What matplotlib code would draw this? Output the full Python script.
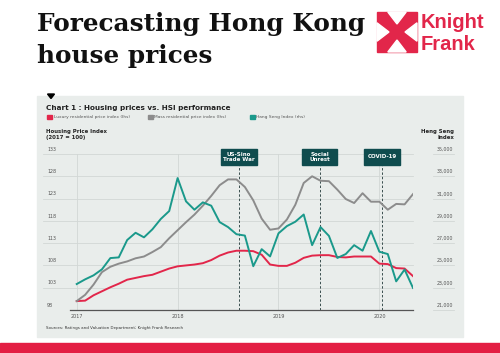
import matplotlib
matplotlib.use("Agg")
import matplotlib.pyplot as plt
from matplotlib.patches import Rectangle, Polygon
from matplotlib.transforms import blended_transform_factory

# monthly data, Jan 2017 - May 2020
luxury = [100.0, 100.1, 101.3, 102.2, 103.1, 103.9, 104.8, 105.2, 105.6, 105.9, 106.6, 107.3,
          107.8, 108.0, 108.2, 108.5, 109.2, 110.2, 110.9, 111.3, 111.3, 111.2, 110.4, 108.2,
          107.9, 107.9, 108.6, 109.7, 110.2, 110.3, 110.3, 109.9, 109.8, 110.0, 110.0, 110.0,
          108.4, 108.3, 107.4, 107.3, 105.6]
mass = [100.0, 101.4, 103.7, 106.5, 107.7, 108.4, 108.9, 109.6, 110.0, 111.0, 112.1, 114.1,
        115.9, 117.7, 119.4, 121.4, 123.6, 126.0, 127.3, 127.3, 125.6, 122.6, 118.5, 116.0,
        116.3, 118.3, 121.6, 126.5, 128.0, 127.0, 126.9, 125.0, 122.9, 122.0, 124.2, 122.3,
        122.3, 120.5, 121.8, 121.7, 124.0]
hsi = [23330, 23750, 24110, 24650, 25660, 25720, 27280, 27930, 27520, 28240, 29170, 29880,
       32840, 30750, 30000, 30660, 30360, 28890, 28440, 27800, 27680, 24930, 26460, 25810,
       27880, 28530, 28920, 29570, 26820, 28440, 27650, 25670, 26020, 26820, 26320, 28090,
       26230, 26020, 23570, 24630, 22980]
months = list(range(len(hsi)))

years = ["2017", "2018", "2019", "2020"]
left_ticks = [98, 103, 108, 113, 118, 123, 128, 133]
right_ticks = [21000, 23000, 25000, 27000, 29000, 31000, 33000, 35000]
events = ["US-Sino\nTrade War", "Social\nUnrest", "COVID-19"]
event_month = [19.3, 28.9, 36.3]

RED = "#e2264a"
GREY = "#8c8c8c"
TEAL = "#1a998b"
BOX = "#0f4c4e"
PANEL = "#e9edeb"
GRID = "#d2d7d5"
TXT = "#555555"

W, H = 500, 353
fig = plt.figure(figsize=(5, 3.53), dpi=100)

def fx(px):
    return px / W

def fy(py):
    return 1 - py / H

# grey panel + bottom red band (behind the axes)
fig.patches.append(Rectangle((fx(37), fy(337)), fx(463) - fx(37), (337 - 96) / H,
                             transform=fig.transFigure, color=PANEL, zorder=-2))
fig.patches.append(Rectangle((0, 0), 1, 10 / H, transform=fig.transFigure,
                             color="#e31e43", zorder=-2))
fig.patches.append(Polygon([(fx(47.5), fy(94)), (fx(54.5), fy(94)), (fx(51), fy(98.5))],
                           transform=fig.transFigure, color="black", zorder=1))

# headline
fig.text(fx(37), fy(31), "Forecasting Hong Kong", family="DejaVu Serif", weight="bold",
         fontsize=17.8, va="baseline", color="#111111")
fig.text(fx(37), fy(63), "house prices", family="DejaVu Serif", weight="bold",
         fontsize=17.8, va="baseline", color="#111111")

# logo
lx, ly, ls = 377, 12, 40
def lp(u, v):
    return (fx(lx + u * ls), fy(ly + (1 - v) * ls))
fig.patches.append(Polygon([lp(0, 0), lp(1, 0), lp(1, 1), lp(0, 1)], transform=fig.transFigure,
                           color=RED, zorder=1))
for tri in ([(0.27, 1), (0.73, 1), (0.5, 0.7)], [(0.27, 0), (0.73, 0), (0.5, 0.3)],
            [(0, 0.27), (0, 0.73), (0.3, 0.5)], [(1, 0.27), (1, 0.73), (0.7, 0.5)]):
    fig.patches.append(Polygon([lp(u, v) for u, v in tri], transform=fig.transFigure,
                               color="white", zorder=2))
fig.text(fx(421), fy(27.5), "Knight", family="Liberation Sans", weight="bold", fontsize=14.5,
         color=RED, va="baseline")
fig.text(fx(421), fy(50), "Frank", family="Liberation Sans", weight="bold", fontsize=14.5,
         color=RED, va="baseline")

# chart header
fig.text(fx(46), fy(108), "Chart 1 : Housing prices vs. HSI performance", weight="bold",
         fontsize=5.2, va="center", color="#222222")
legend = [("Luxury residential price index (lhs)", RED, 47),
          ("Mass residential price index (lhs)", GREY, 148),
          ("Hang Seng Index (rhs)", TEAL, 250)]
for label, col, px in legend:
    fig.patches.append(Rectangle((fx(px), fy(119.5)), 4.5 / W, 4.5 / H,
                                 transform=fig.transFigure, color=col))
    fig.text(fx(px + 6.5), fy(117.3), label, fontsize=3.2, va="center", color=TXT)

fig.text(fx(46), fy(129), "Housing Price Index\n(2017 = 100)", weight="bold", fontsize=3.9,
         va="top", color="#222222", linespacing=1.2)
fig.text(fx(454), fy(129), "Heng Seng\nIndex", weight="bold", fontsize=3.9, va="top",
         ha="right", multialignment="right", color="#222222", linespacing=1.2)
fig.text(fx(46), fy(328), "Sources: Ratings and Valuation Department; Knight Frank Research",
         fontsize=2.9, va="center", color="#333333")

# plot area
ax = fig.add_axes([fx(70), fy(310), 343 / W, 156 / H])
ax.patch.set_visible(False)
ax.set_xlim(-0.8, 40)
ax.set_ylim(98, 133)
for s in ["top", "left", "right"]:
    ax.spines[s].set_visible(False)
ax.spines["bottom"].set_color("#555555")
ax.spines["bottom"].set_linewidth(0.9)
ax.set_yticks([])
ax.set_xticks([i * 12 for i in range(len(years))])
ax.set_xticklabels(years, fontsize=3.5, color=TXT)
ax.tick_params(axis="x", length=0, pad=3)

for i in range(len(years)):
    ax.axvline(i * 12, color=GRID, lw=0.6, zorder=0)
lblend = blended_transform_factory(ax.transAxes, ax.transData)
for v in left_ticks[1:]:
    ax.plot([-0.079, 1], [v, v], transform=lblend, color=GRID, lw=0.6, clip_on=False, zorder=0)
for v in left_ticks:
    ax.text(-0.067, v + 0.5, str(v), transform=lblend, fontsize=3.4, color=TXT, va="bottom")
    ax.plot([1.058, 1.12], [v, v], transform=lblend, color=GRID, lw=0.6, clip_on=False)
for v, r in zip(left_ticks, right_ticks):
    ax.text(1.117, v + 0.5, f"{r:,}", transform=lblend, fontsize=3.4, color=TXT,
            va="bottom", ha="right")

# event markers
btrans = blended_transform_factory(ax.transData, fig.transFigure)
for name, m in zip(events, event_month):
    ax.axvline(m, ymin=0, ymax=(310 - 164) / 156, color="#3a4f4f", lw=0.7,
               ls=(0, (2.5, 2)), zorder=1)
    ax.add_patch(Rectangle((m - 2.1, fy(164.5)), 4.2, 15.5 / H, transform=btrans,
                           color=BOX, clip_on=False, zorder=5))
    ax.text(m, fy(156.7), name, transform=btrans, ha="center", va="center", fontsize=4,
            weight="bold", color="white", linespacing=1.1, zorder=6)

ax.plot(months, luxury, color=RED, lw=1.4, zorder=3)
ax.plot(months, mass, color=GREY, lw=1.4, zorder=3)

ax2 = ax.twinx()
ax2.set_ylim(21000, 35000)
ax2.axis("off")
ax2.plot(months, hsi, color=TEAL, lw=1.4)

fig.savefig("out.png", dpi=100)
